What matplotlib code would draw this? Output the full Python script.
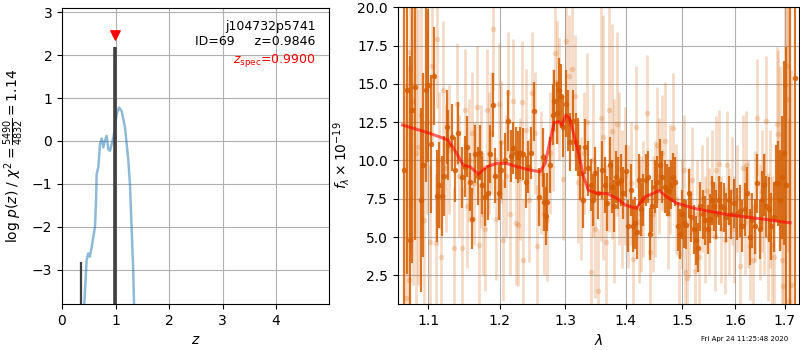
import matplotlib
matplotlib.use("Agg")
import matplotlib.pyplot as plt
from matplotlib.ticker import FixedLocator, NullLocator, FixedFormatter

# ---------------- left panel: p(z) ----------------
pz_z = [0.40, 0.417, 0.46, 0.49, 0.52, 0.555, 0.585, 0.617, 0.636, 0.648, 0.679, 0.71,
        0.742, 0.772, 0.80, 0.835, 0.865, 0.897, 0.928, 0.96, 0.99, 1.02, 1.066,
        1.115, 1.178, 1.24, 1.27, 1.30, 1.333, 1.346, 1.355]
pz_logp = [-4.2, -3.8, -2.78, -2.62, -2.70, -2.47, -2.24, -2.0, -1.39, -0.77, -0.61, -0.07,
           0.06, -0.15, 0.0, 0.12, -0.19, -0.23, -0.07, 0.08, 0.31, 0.62, 0.78,
           0.70, 0.31, -0.46, -1.0, -2.0, -3.09, -3.8, -4.3]
peak_z = [0.355, 0.9846]
peak_top = [-2.82, 2.20]
peak_lw = [1.6, 2.6]
z_spec = 0.99
z_spec_marker_y = 2.47

# ---------------- right panel: spectrum ----------------
dark_wave = [1.0682, 1.0721, 1.0757, 1.0779, 1.0823, 1.0902, 1.0933, 1.0965, 1.1000, 1.1032,
             1.1081, 1.1113, 1.1149, 1.1181, 1.1215, 1.1250, 1.1272, 1.1319, 1.1364, 1.1410, 1.1457,
             1.1500, 1.1533, 1.1572, 1.1609, 1.1643, 1.1690, 1.1714, 1.1751, 1.1785, 1.1837,
             1.1857, 1.1905, 1.1939, 1.1989, 1.2027, 1.2077, 1.2126, 1.2175, 1.2200, 1.2240,
             1.2275, 1.2310, 1.2351, 1.2392, 1.2427, 1.2467,
             1.2522, 1.2598, 1.2651, 1.2675, 1.2697, 1.2717, 1.2769, 1.2806, 1.2831, 1.2874,
             1.2910, 1.2937, 1.2964, 1.3016, 1.3043, 1.3085, 1.3124, 1.3177, 1.3204, 1.3246,
             1.3285, 1.3323, 1.3376, 1.3420, 1.3448, 1.3486, 1.3530,
             1.3607, 1.3652, 1.3690, 1.3730, 1.3774, 1.3802, 1.3841, 1.3875, 1.3915, 1.3954,
             1.4000, 1.4045, 1.4097, 1.4126, 1.4160, 1.4200, 1.4229, 1.4258, 1.4298, 1.4346,
             1.4386, 1.4416, 1.4462, 1.4510, 1.4551, 1.4598, 1.4639, 1.4688, 1.4730,
             1.4754, 1.4795, 1.4831, 1.4873, 1.4917, 1.4953, 1.4996, 1.5038, 1.5075, 1.5119,
             1.5162, 1.5212, 1.5260, 1.5292, 1.5335, 1.5385, 1.5428, 1.5474, 1.5511, 1.5555,
             1.5599, 1.5637, 1.5683, 1.5727, 1.5779, 1.5829, 1.5875, 1.5920, 1.5972,
             1.6035, 1.6090, 1.6141, 1.6188, 1.6234, 1.6288, 1.6340, 1.6388, 1.6434, 1.6488,
             1.6540, 1.6575, 1.6621, 1.6676, 1.6723, 1.6772, 1.6813, 1.6860, 1.6908, 1.6950,
             1.6979, 1.7021, 1.7105, 1.7211]
dark_flux = [9.4, 14.6, 4.8, 13.3, 14.8, 7.4, 9.7, 14.6, 14.9, 11.1,
             15.5, 7.7, 8.4, 7.7, 9.0, 12.2, 11.0, 11.5, 9.4, 11.8, 8.9,
             9.6, 10.9, 8.6, 6.2, 10.4, 9.0, 10.5, 8.4, 7.6, 7.9,
             10.4, 13.6, 9.0, 7.9, 9.4, 10.0, 12.6, 10.3, 10.8, 10.5,
             10.2, 10.5, 10.4, 8.6, 9.6, 10.5,
             13.2, 7.6, 10.2, 7.3, 6.4, 7.3, 9.7, 13.0, 13.9, 13.1,
             14.6, 14.2, 12.2, 13.7, 12.6, 11.2, 12.6, 11.2, 10.9, 9.2,
             7.4, 10.9, 9.5, 8.4, 7.4, 9.2, 7.9,
             9.4, 8.4, 7.2, 9.7, 8.3, 7.0, 8.9, 8.5, 8.7, 7.85,
             9.3, 5.7, 8.1, 5.7, 5.9, 5.3, 8.7, 6.8, 7.4, 8.7,
             8.9, 5.2, 7.0, 8.3, 8.6, 9.7, 8.9, 8.3, 8.1,
             8.0, 8.4, 8.9, 8.6, 5.7, 5.2, 6.5, 5.9, 5.8, 7.85,
             6.3, 5.5, 4.8, 4.3, 7.0, 6.5, 6.1, 5.5, 6.2, 7.4,
             7.0, 6.5, 7.4, 7.0, 6.9, 6.3, 7.4, 6.5, 7.2,
             6.5, 6.7, 5.7, 6.8, 7.85, 5.0, 6.1, 5.7, 8.5, 5.5,
             7.4, 8.4, 7.0, 6.8, 5.7, 6.3, 8.5, 8.5, 7.4, 8.9,
             10.5, 8.4, 0.0, 15.4]
dark_err = [14, 12, 12, 10, 10, 6, 6, 6, 5, 4.5,
            3.2, 3.0, 2.8, 2.6, 2.6, 2.4, 2.3, 2.2, 2.1, 2.0, 2.0,
            2.0, 2.0, 1.9, 2.0, 1.9, 1.9, 1.8, 1.9, 1.9, 1.8,
            1.9, 2.1, 1.8, 1.8, 1.9, 1.8, 2.0, 1.7, 1.7, 1.7,
            1.7, 1.7, 1.7, 1.7, 1.7, 1.7,
            1.9, 1.9, 1.9, 1.9, 1.9, 1.9, 1.8, 2.0, 2.0, 2.0,
            2.1, 2.1, 2.0, 2.2, 2.0, 1.9, 2.0, 1.9, 1.9, 1.8,
            1.8, 1.8, 1.8, 1.7, 1.7, 1.7, 1.7,
            1.9, 1.8, 1.8, 1.8, 1.7, 1.7, 1.7, 1.7, 1.7, 1.7,
            1.7, 1.7, 1.7, 1.7, 1.7, 1.7, 1.7, 1.7, 1.7, 1.7,
            1.7, 1.7, 1.7, 1.7, 1.7, 1.7, 1.7, 1.7, 1.7,
            1.6, 1.6, 1.6, 1.6, 1.6, 1.6, 1.6, 1.6, 1.6, 1.6,
            1.6, 1.6, 1.6, 1.6, 1.6, 1.6, 1.6, 1.6, 1.6, 1.6,
            1.6, 1.6, 1.6, 1.6, 1.6, 1.6, 1.6, 1.6, 1.6,
            1.7, 1.7, 1.7, 1.7, 1.7, 1.8, 1.8, 1.8, 1.9, 1.9,
            1.9, 2.0, 2.0, 2.1, 2.2, 2.3, 2.5, 2.8, 3.3, 4.0,
            6.0, 9.0, 20, 20]

light_wave = [1.0705, 1.0744, 1.0757, 1.0792, 1.0836, 1.0867, 1.0902, 1.0946, 1.0982, 1.1022,
              1.1045, 1.1102, 1.1119, 1.1145, 1.1176, 1.1203, 1.1240, 1.1286, 1.1350, 1.1388,
              1.1419, 1.1466, 1.1504, 1.1528, 1.1562, 1.1600, 1.1633, 1.1671, 1.1708, 1.1733,
              1.1765, 1.1790, 1.1815, 1.1843, 1.1876, 1.1910, 1.1949, 1.1989, 1.2023, 1.2057,
              1.2097, 1.2131, 1.2156, 1.2205, 1.2240, 1.2280, 1.2305, 1.2330, 1.2354, 1.2395,
              1.2446, 1.2482, 1.2525, 1.2568, 1.2620, 1.2663, 1.2721, 1.2764, 1.2803, 1.2843,
              1.2869, 1.2905, 1.2964, 1.3012, 1.3064, 1.3108, 1.3161, 1.3214, 1.3257, 1.3306,
              1.3355, 1.3415, 1.3453, 1.3486, 1.3541, 1.3580, 1.3620, 1.3669, 1.3724, 1.3764,
              1.3802, 1.3847, 1.3886, 1.3937, 1.3988, 1.4040, 1.4083, 1.4121, 1.4178, 1.4221,
              1.4263, 1.4306, 1.4362, 1.4421, 1.4465, 1.4500, 1.4539, 1.4580, 1.4625, 1.4688,
              1.4742, 1.4786, 1.4837, 1.4886, 1.4946, 1.4996, 1.5033, 1.5051, 1.5082, 1.5125,
              1.5180, 1.5236, 1.5273, 1.5316, 1.5366, 1.5413, 1.5460, 1.5507, 1.5555, 1.5603,
              1.5637, 1.5683, 1.5727, 1.5805, 1.5837, 1.5882, 1.5930, 1.5978, 1.6037, 1.6096,
              1.6145, 1.6194, 1.6219, 1.6254, 1.6294, 1.6360, 1.6394, 1.6440, 1.6484, 1.6534,
              1.6575, 1.6615, 1.6656, 1.6697, 1.6737, 1.6778, 1.6833, 1.6866, 1.6902, 1.6937,
              1.6970, 1.7006, 1.7041, 1.7058, 1.7096, 1.7122]
light_flux = [1.0, 2.2, 17.1, 13.9, 10.5, 10.9, 13.0, 6.1, 12.5, 4.7,
              16.2, 4.6, 17.9, 10.0, 3.7, 14.6, 9.5, 10.7, 4.3, 13.7,
              9.0, 4.3, 13.3, 7.0, 10.0, 11.8, 8.5, 13.5, 4.5, 9.6,
              6.5, 5.5, 13.3, 10.5, 11.8, 18.6, 6.2, 13.7, 11.2, 4.8,
              9.0, 14.4, 6.5, 13.9, 5.9, 5.8, 8.8, 13.8, 3.5, 12.0,
              7.4, 14.4, 11.8, 4.4, 9.2, 6.5, 6.1, 10.5, 12.0, 17.0,
              15.1, 14.0, 8.8, 17.8, 15.5, 16.0, 14.2, 8.6, 7.5, 10.5,
              12.5, 2.7, 10.0, 5.5, 1.5, 12.75, 11.5, 4.7, 13.3, 11.9,
              8.0, 12.4, 9.5, 7.5, 9.0, 7.0, 8.5, 3.6, 12.2, 6.0,
              6.5, 7.5, 13.1, 4.0, 6.5, 7.5, 11.0, 9.0, 10.5, 11.3,
              6.5, 8.8, 12.1, 7.5, 3.9, 6.5, 9.4, 2.7, 2.3, 6.0,
              8.7, 2.8, 6.5, 3.7, 7.5, 5.5, 8.0, 6.0, 8.5, 5.0,
              9.4, 9.8, 5.5, 4.8, 9.7, 6.0, 8.0, 5.5, 7.5, 3.1,
              9.5, 6.0, 9.7, 6.5, 4.4, 3.5, 7.0, 12.8, 6.0, 8.0,
              6.5, 12.6, 5.0, 7.5, 4.5, 3.7, 12.4, 11.7, 10.2, 3.5,
              1.8, 14.9, 16.2, 14.0, 0.8, 1.9]
light_err = [14, 14, 13, 12, 10, 9, 8, 6.5, 6, 5,
             5, 4.5, 4.5, 4.5, 4.5, 4.5, 4.2, 4.2, 4.0, 4.0,
             4.0, 4.0, 4.0, 4.0, 4.0, 4.0, 4.0, 4.0, 4.0, 4.0,
             4.0, 4.0, 4.0, 4.0, 4.0, 4.0, 4.0, 4.0, 4.0, 4.0,
             4.0, 4.0, 4.0, 4.0, 4.0, 4.0, 4.0, 4.0, 4.0, 4.0,
             4.0, 4.0, 4.0, 4.0, 4.0, 4.0, 4.0, 4.0, 4.0, 4.0,
             4.0, 4.0, 4.0, 4.0, 4.0, 4.0, 4.0, 4.0, 4.0, 4.0,
             4.5, 4.0, 5.0, 4.5, 4.0, 8.0, 8.0, 5.0, 8.0, 7.0,
             6.0, 6.0, 5.0, 4.5, 4.5, 4.0, 4.0, 4.0, 4.0, 4.0,
             3.8, 3.8, 3.8, 3.8, 3.8, 3.8, 3.8, 3.8, 3.8, 3.8,
             3.6, 3.6, 3.6, 3.6, 3.6, 3.6, 3.6, 3.6, 3.6, 3.6,
             3.5, 3.5, 3.5, 3.5, 3.5, 3.5, 3.5, 3.5, 3.5, 3.5,
             3.5, 3.5, 3.5, 3.5, 3.5, 3.5, 3.5, 3.5, 3.5, 3.5,
             3.5, 3.5, 3.5, 3.5, 3.5, 3.5, 3.6, 3.8, 3.8, 4.0,
             4.0, 4.2, 4.2, 4.5, 4.5, 4.8, 5.0, 5.5, 6.0, 7.0,
             8.0, 9.0, 10.0, 10.0, 12.0, 14.0]

model_wave = [1.0661, 1.1022, 1.1272, 1.1388, 1.1481, 1.1576, 1.1694, 1.1815, 1.1961, 1.2108,
              1.2257, 1.2458, 1.2611, 1.2688, 1.2766, 1.2828, 1.2896, 1.2950, 1.3014, 1.3071,
              1.3135, 1.3216, 1.3296, 1.3377, 1.3516, 1.3683, 1.3851, 1.3992, 1.4185, 1.4243,
              1.4332, 1.4478, 1.4585, 1.4718, 1.4904, 1.5272, 1.5905, 1.6565, 1.7111]
model_flux = [12.31, 11.77, 11.33, 10.46, 9.70, 9.59, 9.11, 9.59, 9.81, 9.81,
              9.59, 9.37, 9.27, 9.81, 11.33, 12.47, 12.53, 12.31, 12.97, 12.75,
              11.77, 10.46, 8.94, 8.07, 7.85, 7.85, 7.52, 7.09, 6.87, 7.20,
              7.63, 7.85, 8.03, 7.63, 7.20, 6.83, 6.44, 6.17, 5.93]

wave_ticks = [1.1, 1.2, 1.3, 1.4, 1.5, 1.6, 1.7]
wave_ticklabels = ["1.1", "1.2", "1.3", "1.4", "1.5", "1.6", "1.7"]

G141 = "#d55e00"

fig = plt.figure(figsize=(8, 3.5), dpi=100)

# ---- left ----
ax1 = fig.add_axes([62 / 800, 46 / 350, 267 / 800, 296 / 350])
ax1.plot(pz_z, pz_logp, color="#1f77b4", alpha=0.5, lw=1.8)
for zz, top, lw in zip(peak_z, peak_top, peak_lw):
    ax1.plot([zz, zz], [-10, top], color="0.25", lw=lw, solid_capstyle="butt")
ax1.scatter([z_spec], [z_spec_marker_y], marker="v", color="red", s=45, zorder=5)
ax1.set_xlim(0, 4.99)
ax1.set_ylim(-3.8, 3.1)
ax1.set_xticks([0, 1, 2, 3, 4])
ax1.set_yticks([-3, -2, -1, 0, 1, 2, 3])
ax1.grid(True)
ax1.set_axisbelow(True)
ax1.set_xlabel(r"$z$")
ax1.set_ylabel(r"log $p(z)$ / $\chi^2=\frac{5490}{4832}=1.14$")
ax1.text(0.95, 0.96, "j104732p5741\nID=69     z=0.9846", ha="right", va="top",
         transform=ax1.transAxes, fontsize=9)
ax1.text(0.95, 0.85, r"$z_\mathrm{spec}$=0.9900", ha="right", va="top",
         transform=ax1.transAxes, fontsize=9, color="red")

# ---- right ----
ax2 = fig.add_axes([397.7 / 800, 46 / 350, 401.3 / 800, 296.7 / 350])
ax2.errorbar(light_wave, light_flux, yerr=light_err, fmt="o", color=G141, alpha=0.22,
             ms=4, elinewidth=2.0, capsize=0, mew=0)
ax2.errorbar(dark_wave, dark_flux, yerr=dark_err, fmt="o", color=G141, alpha=0.85,
             ms=4, elinewidth=1.6, capsize=0, mew=0)
ax2.plot(model_wave, model_flux, color="red", alpha=0.6, lw=2.2, zorder=10)
ax2.set_xscale("log")
ax2.set_xlim(1.0597, 1.7298)
ax2.set_ylim(0.63, 20.0)
ax2.xaxis.set_major_locator(FixedLocator(wave_ticks))
ax2.xaxis.set_major_formatter(FixedFormatter(wave_ticklabels))
ax2.xaxis.set_minor_locator(NullLocator())
ax2.grid(True)
ax2.set_axisbelow(True)
ax2.set_xlabel(r"$\lambda$")
ax2.set_ylabel(r"$f_\lambda\times10^{-19}$")

fig.text(788 / 800, 11 / 350, "Fri Apr 24 11:25:48 2020", ha="right", va="center", fontsize=5)

fig.savefig("out.png", dpi=100)
